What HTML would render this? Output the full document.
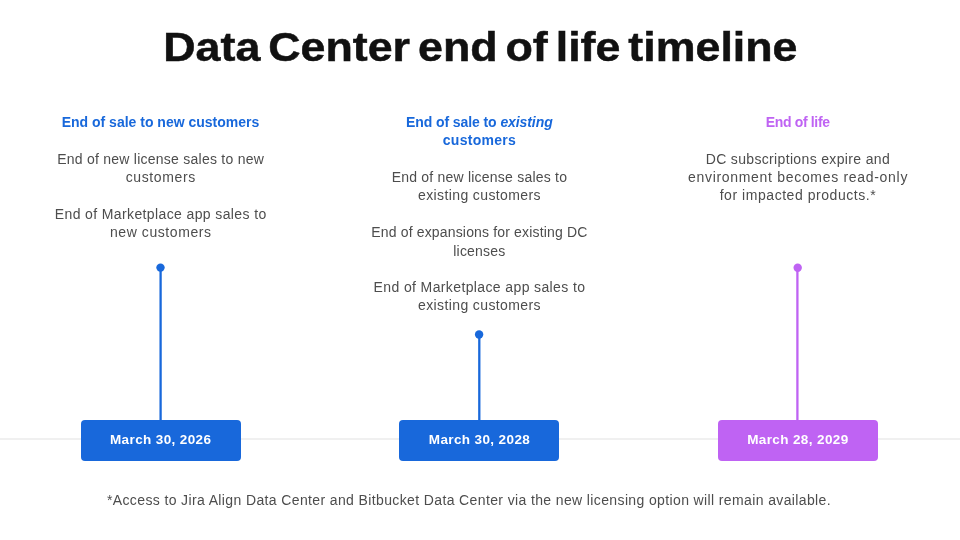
<!DOCTYPE html>
<html lang="en"><head><meta charset="utf-8"><title>Data Center end of life timeline</title>
<style>
html,body{margin:0;padding:0;background:#fff;}
body{width:960px;height:540px;position:relative;overflow:hidden;font-family:"Liberation Sans",sans-serif;}
.t{position:absolute;width:800px;box-sizing:border-box;text-align:center;white-space:nowrap;line-height:1;}
.b{font-size:14px;color:#4d4d4d;}
.h{font-size:14px;font-weight:bold;}
.blue{color:#1868DB;} .purple{color:#BF63F3;} .w{color:#fff;font-size:13.5px;}
#title{position:absolute;left:0;top:27px;width:960px;text-align:center;font-weight:bold;font-size:40px;line-height:1;color:#111;-webkit-text-stroke:0.5px #111;white-space:nowrap;}
#title span{display:inline-block;transform:scaleX(1.119);word-spacing:-4px;transform-origin:center;}
.rule{position:absolute;left:0;top:438.3px;width:960px;height:1.5px;background:#f0f0f0;}
.lines{position:absolute;left:0;top:0;}
.box{position:absolute;top:420px;width:160px;height:41px;border-radius:4px;}
</style></head><body>
<div id="title"><span>Data Center end of life timeline</span></div>
<div class="rule"></div>
<svg class="lines" width="960" height="540" viewBox="0 0 960 540">
<line x1="160.6" y1="267.6" x2="160.6" y2="421" stroke="#1868DB" stroke-width="2.3"/>
<circle cx="160.5" cy="267.6" r="4.2" fill="#1868DB"/>
<line x1="479.3" y1="334.5" x2="479.3" y2="421" stroke="#1868DB" stroke-width="2.3"/>
<circle cx="479.1" cy="334.5" r="4.2" fill="#1868DB"/>
<line x1="797.4" y1="267.7" x2="797.4" y2="421" stroke="#BF63F3" stroke-width="2.3"/>
<circle cx="797.7" cy="267.7" r="4.2" fill="#BF63F3"/>
</svg>
<div class="box" style="left:80.5px;background:#1868DB"><div class="t h w" style="left:-320px;top:13px;letter-spacing:0.38px;padding-left:0.38px">March 30, 2026</div></div>
<div class="box" style="left:399.3px;background:#1868DB"><div class="t h w" style="left:-320px;top:13px;letter-spacing:0.38px;padding-left:0.38px">March 30, 2028</div></div>
<div class="box" style="left:717.7px;background:#BF63F3"><div class="t h w" style="left:-320px;top:13px;letter-spacing:0.38px;padding-left:0.38px">March 28, 2029</div></div>
<div class="t h blue" style="left:-239.5px;top:115px;letter-spacing:0.0px;padding-left:0.0px">End of sale to new customers</div>
<div class="t b" style="left:-239.5px;top:152px;letter-spacing:0.249px;padding-left:0.249px">End of new license sales to new</div>
<div class="t b" style="left:-239.5px;top:170px;letter-spacing:0.616px;padding-left:0.616px">customers</div>
<div class="t b" style="left:-239.5px;top:207px;letter-spacing:0.38px;padding-left:0.38px">End of Marketplace app sales to</div>
<div class="t b" style="left:-239.5px;top:225px;letter-spacing:0.571px;padding-left:0.571px">new customers</div>
<div class="t h blue" style="left:79.3px;top:115px;letter-spacing:-0.085px;padding-left:0px">End of sale to <i>existing</i></div>
<div class="t h blue" style="left:79.3px;top:133px;letter-spacing:0.274px;padding-left:0.274px">customers</div>
<div class="t b" style="left:79.3px;top:170px;letter-spacing:0.217px;padding-left:0.217px">End of new license sales to</div>
<div class="t b" style="left:79.3px;top:188px;letter-spacing:0.392px;padding-left:0.392px">existing customers</div>
<div class="t b" style="left:79.3px;top:225px;letter-spacing:0.16px;padding-left:0.16px">End of expansions for existing DC</div>
<div class="t b" style="left:79.3px;top:244px;letter-spacing:0.203px;padding-left:0.203px">licenses</div>
<div class="t b" style="left:79.3px;top:280px;letter-spacing:0.38px;padding-left:0.38px">End of Marketplace app sales to</div>
<div class="t b" style="left:79.3px;top:298px;letter-spacing:0.392px;padding-left:0.392px">existing customers</div>
<div class="t h purple" style="left:397.7px;top:115px;letter-spacing:-0.336px;padding-left:0px">End of life</div>
<div class="t b" style="left:397.7px;top:152px;letter-spacing:0.343px;padding-left:0.343px">DC subscriptions expire and</div>
<div class="t b" style="left:397.7px;top:170px;letter-spacing:0.693px;padding-left:0.693px">environment becomes read-only</div>
<div class="t b" style="left:397.7px;top:188px;letter-spacing:0.547px;padding-left:0.547px">for impacted products.*</div>
<div class="t b" style="left:68.8px;top:493px;letter-spacing:0.375px;padding-left:0.375px">*Access to Jira Align Data Center and Bitbucket Data Center via the new licensing option will remain available.</div>
</body></html>
